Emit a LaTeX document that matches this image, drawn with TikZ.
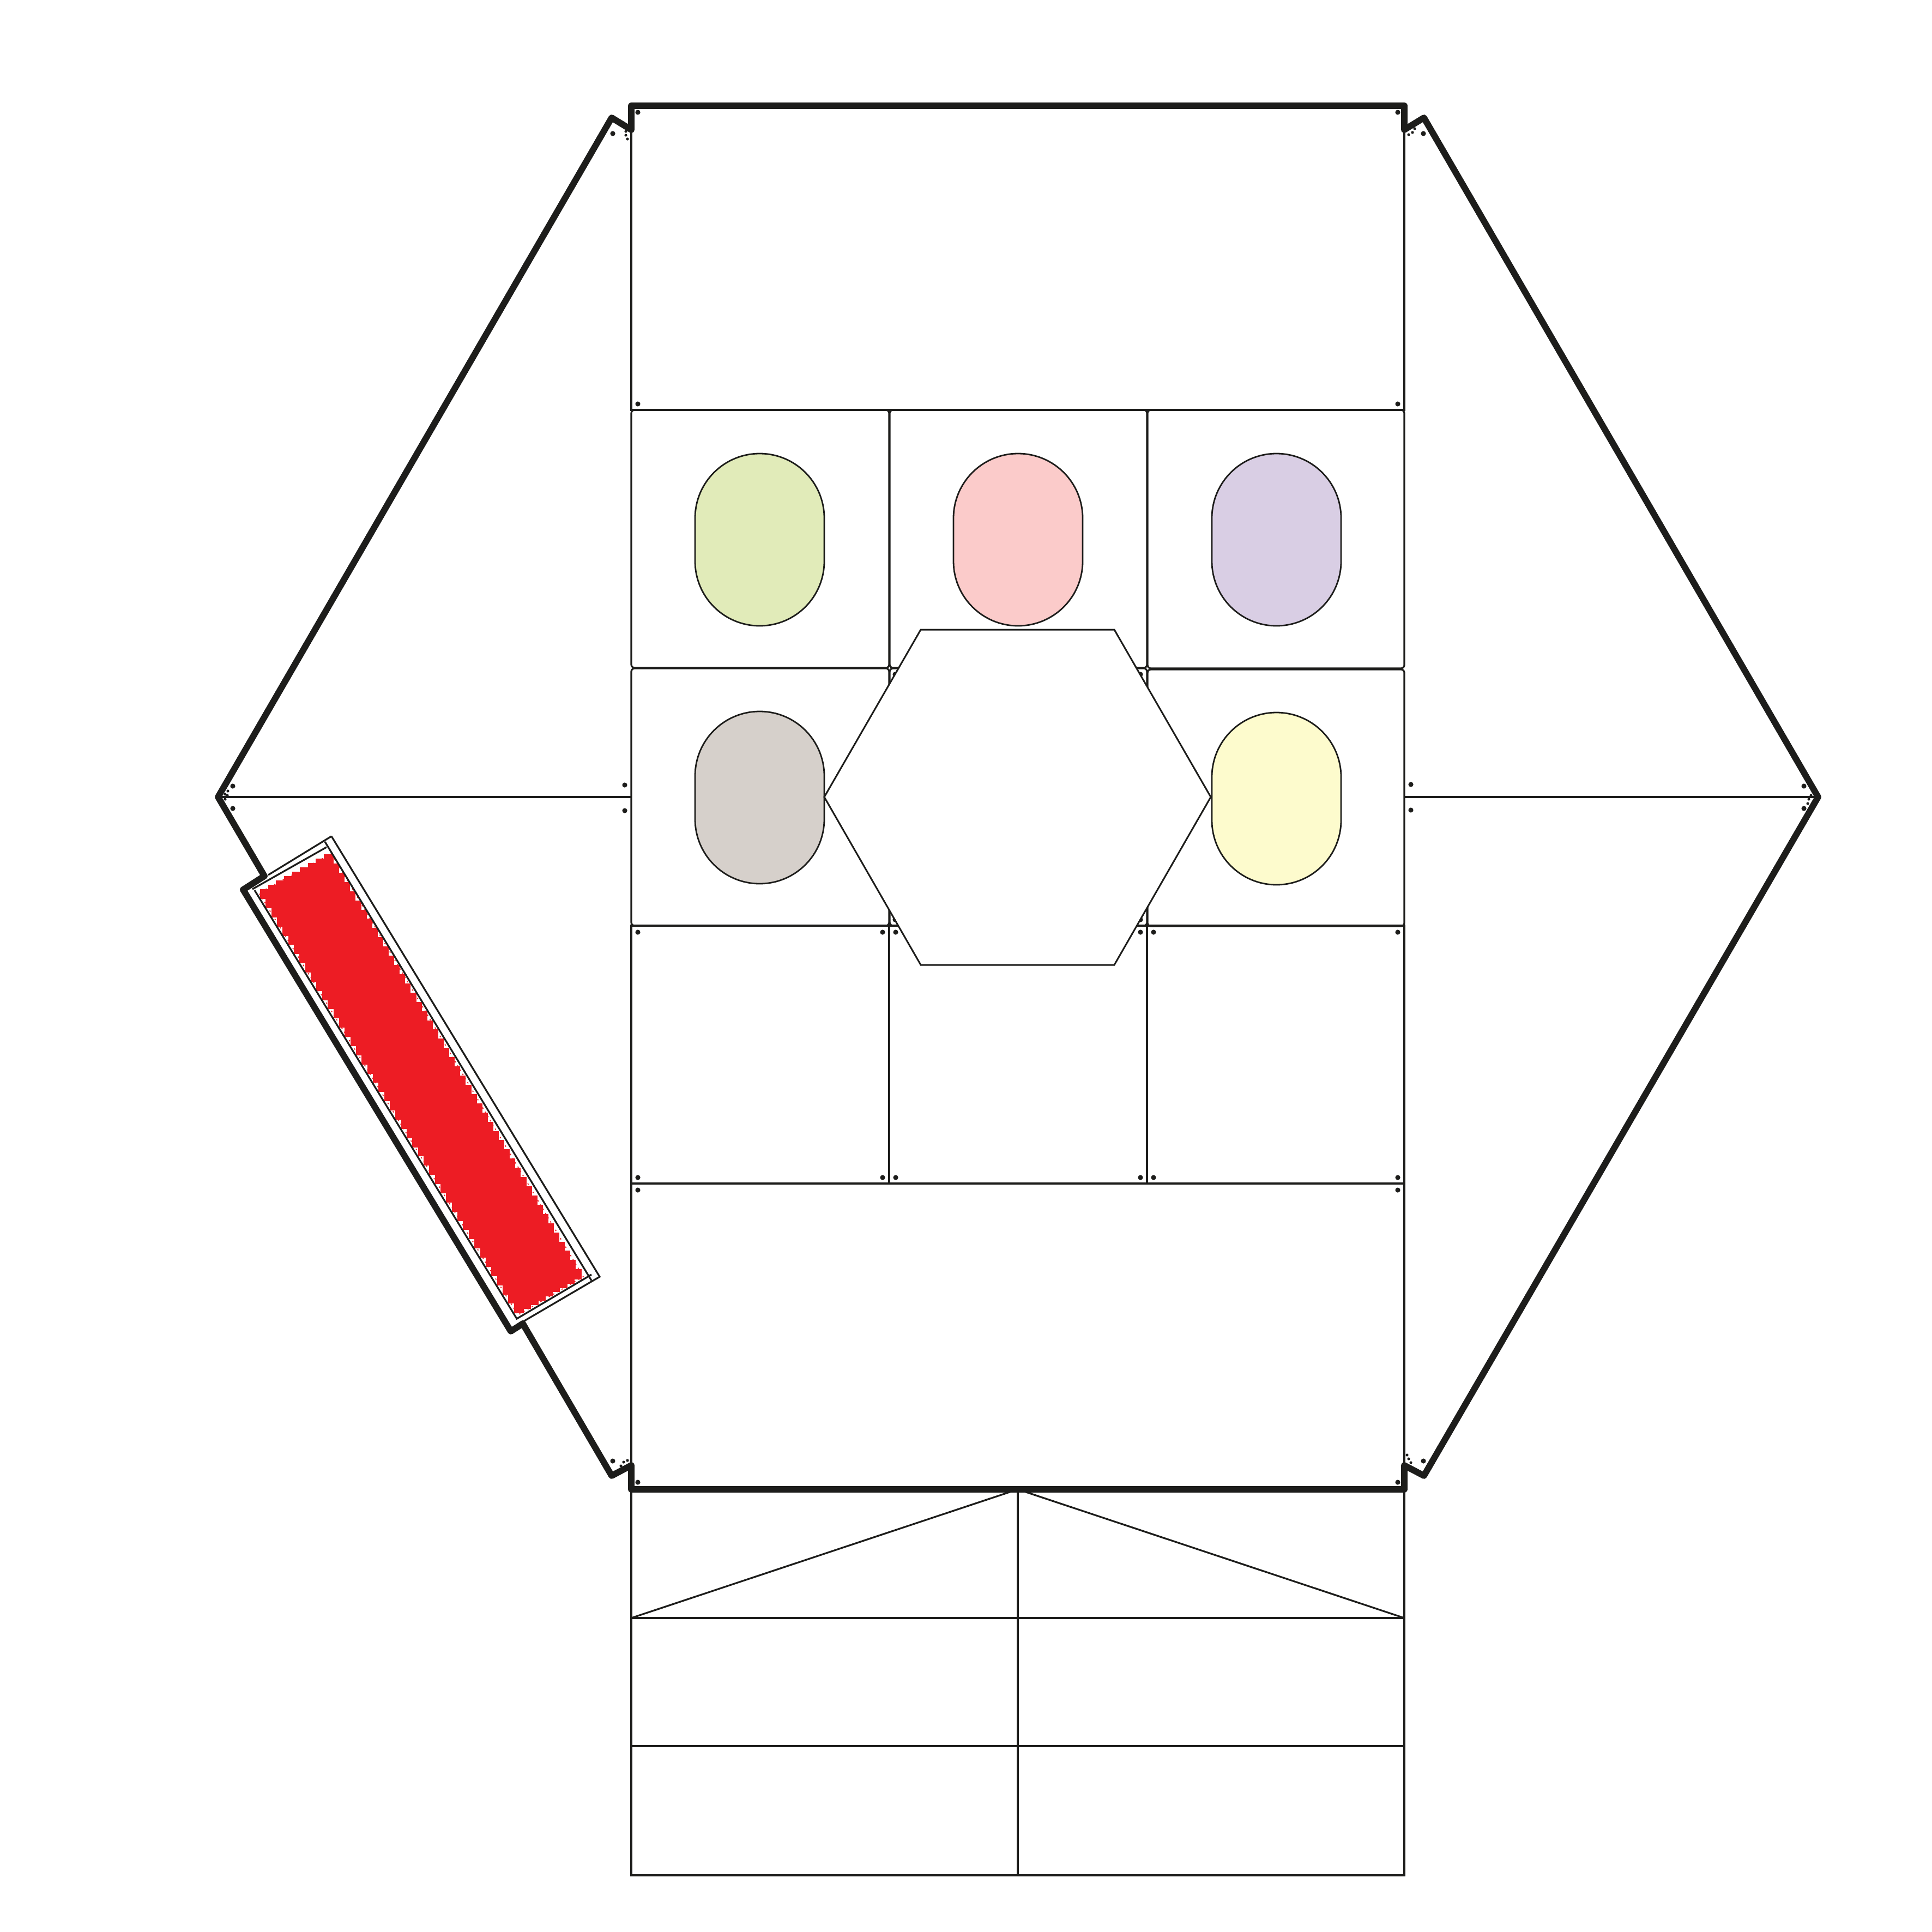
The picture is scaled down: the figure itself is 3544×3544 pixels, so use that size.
\documentclass[tikz,border=0pt]{standalone}
\usetikzlibrary{calc}
\definecolor{ink}{HTML}{1D1D1B}
\definecolor{redfill}{HTML}{ED1C24}
\definecolor{ovgreen}{HTML}{E1EBB9}
\definecolor{ovpink}{HTML}{FBCBCA}
\definecolor{ovlav}{HTML}{D9CEE4}
\definecolor{ovgray}{HTML}{D6D0CB}
\definecolor{ovyellow}{HTML}{FDFBCD}
\tikzset{
  thin line/.style={draw=ink,line width=0.64pt,line join=miter},
  panel/.style={draw=ink,line width=0.64pt,rounded corners=1.2pt},
  thick outline/.style={draw=ink,line width=2.35pt,line join=round,line cap=round},
  oval/.style={draw=ink,line width=0.56pt,rounded corners=23.7pt},
  hole/.style={fill=ink,draw=none},
  fringe/.style={draw=redfill,line width=0.35pt,dash pattern=on 0.5pt off 1.3pt}
}
\begin{document}
\begin{tikzpicture}[x=0.2pt,y=-0.2pt]
\useasboundingbox (0,0) rectangle (3544,3544);
\fill[white] (0,0) rectangle (3544,3544);
% grid
\draw[thin line] (1158,194) rectangle (2576,752);
\draw[thin line] (1158,1698) rectangle (2576,2171);
\draw[thin line] (1631,1698) -- (1631,2171) (2104,1698) -- (2104,2171);
\draw[thin line] (1158,2171) rectangle (2576,2732);
\draw[thin line] (400,1462) -- (1158,1462) (2576,1462) -- (3335,1462);
% lower flap
\draw[thin line] (1158,2732) rectangle (2576,3440);
\draw[thin line] (1867,2732) -- (1867,3440);
\draw[thin line] (1158,2968) -- (2576,2968) (1158,3203) -- (2576,3203);
\draw[thin line] (1158,2968) -- (1867,2732) -- (2576,2968);
% rounded panels
\foreach \xa/\xb/\ya/\yb in {1158/1631/752/1225,1632/2104/752/1225,2105/2576/752/1226,
  1158/1631/1226/1698,1632/2104/1226/1698,2105/2576/1228/1699}
  \draw[panel] (\xa,\ya) rectangle (\xb,\yb);
% ovals
\draw[oval,fill=ovgreen]  (1275,832) rectangle (1512,1148);
\draw[oval,fill=ovpink]   (1749,832) rectangle (1986,1148);
\draw[oval,fill=ovlav]    (2223,832) rectangle (2460,1148);
\draw[oval,fill=ovgray]   (1275,1305) rectangle (1512,1621);
\draw[oval,fill=ovyellow] (2223,1307) rectangle (2460,1623);
% holes
\foreach \x/\y in {1170/206,2564/206,1170/741,2564/741,
  1124/245,2611/245,1124/2680,2611/2680,
  427/1442,427/1483,1146/1440,1146/1487,2588/1439,2588/1486,3309/1442,3309/1483,
  1170/1710,1619/1710,1643/1710,2092/1710,2116/1710,2564/1710,
  1170/2160,1619/2160,1643/2160,2092/2160,2116/2160,2564/2160,
  1170/2183,2564/2183,1170/2719,2564/2719,
  1642/1237,2092/1237,1642/1687,2092/1687}
  \fill[hole] (\x,\y) circle[radius=4.6];
% small notches at the outline joints
\foreach \x/\y in {1148/241,1148/248,1151/255,2595/236,2591/243,2584/247,
  1139/2689,1144/2682,1151/2679,2581/2669,2584/2676,2588/2683,
  418/1451,413/1457,417/1459,413/1466,3322/1459,3318/1466,3316/1474}
  \fill[hole] (\x,\y) circle[radius=2.6];
% central hexagon
\draw[draw=ink,line width=0.6pt,fill=white,line join=miter]
  (1689,1155) -- (2044,1155) -- (2221,1462) -- (2044,1770) -- (1689,1770) -- (1512,1462) -- cycle;
% red strip: solid body with a stepped edge
\coordinate (ra) at (603,1576);
\coordinate (rb) at (486,1640);
\coordinate (rc) at (952,2400);
\coordinate (rd) at (1058,2338);
\fill[redfill] (ra) -- (rb) -- (rc) -- (rd) -- cycle;
\foreach \t in {0,0.0222,...,1.001}{
  \fill[redfill] ($(rb)!\t!(rc)$) +(-9,-9) rectangle +(9,9);
  \fill[redfill] ($(ra)!\t!(rd)$) +(-9,-9) rectangle +(9,9);
}
\foreach \t in {0,0.125,...,1.001}{
  \fill[redfill] ($(ra)!\t!(rb)$) +(-9,-9) rectangle +(9,9);
  \fill[redfill] ($(rc)!\t!(rd)$) +(-9,-9) rectangle +(9,9);
}
\draw[fringe] (608,1566) -- (475,1638) -- (950,2412) -- (1070,2342) -- cycle;
% strip frame
\draw[thin line] (608,1534) -- (1100,2342) -- (948,2431);
\draw[thin line] (608,1534) -- (492,1605);
\draw[thin line] (463,1631) -- (599,1554);
\draw[thin line] (596,1544) -- (1085,2349);
\draw[thin line] (467,1633) -- (948,2419) -- (1085,2338);
% heavy outline
\draw[thick outline] (1158,238) -- (1158,194) -- (2576,194) -- (2576,238) -- (2612,216)
  -- (3335,1462) -- (2612,2707) -- (2576,2688) -- (2576,2732) -- (1158,2732) -- (1158,2688)
  -- (1122,2707) -- (959,2428) -- (937,2442) -- (446,1632) -- (485,1607) -- (400,1462)
  -- (1122,216) -- cycle;
\end{tikzpicture}
\end{document}
